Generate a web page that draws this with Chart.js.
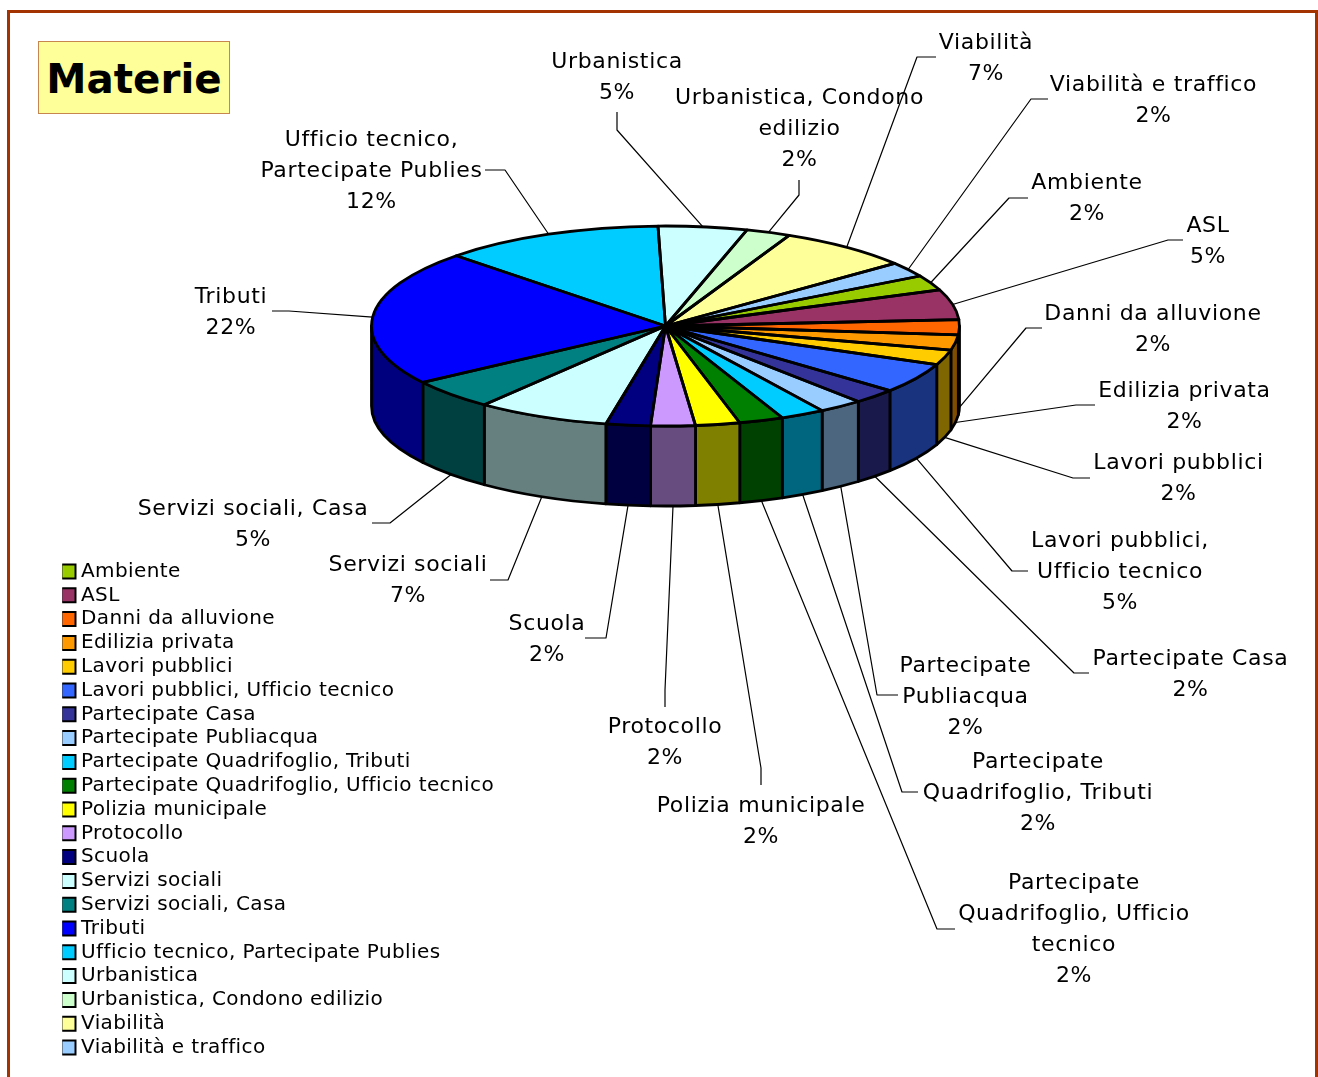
<!DOCTYPE html>
<html lang="it">
<head>
<meta charset="utf-8">
<title>Materie</title>
<script src="https://cdn.jsdelivr.net/npm/chart.js@4"></script>
<style>
    html, body { margin: 0; padding: 0; background: #fff; overflow: hidden; }
    #frame { position: absolute; left: 7px; top: 10px; width: 1305px; height: 1100px; border: 3px solid #a33300; }
    #titolo {
        position: absolute; left: 38px; top: 41px; width: 190px; height: 71px; opacity: 0.999;
        background: #ffff99; border: 1px solid #c8864f; text-align: center;
        font: bold 40.4px "DejaVu Sans", sans-serif; line-height: 74px; color: #000;
    }
    canvas { position: absolute; left: 0; top: 0; }
</style>
</head>
<body>
<div id="frame"></div>
<div id="titolo">Materie</div>
<canvas id="grafico" width="1318" height="1077"></canvas>
<script>
const categories = ['Ambiente', 'ASL', 'Danni da alluvione', 'Edilizia privata', 'Lavori pubblici',
    'Lavori pubblici, Ufficio tecnico', 'Partecipate Casa', 'Partecipate Publiacqua',
    'Partecipate Quadrifoglio, Tributi', 'Partecipate Quadrifoglio, Ufficio tecnico',
    'Polizia municipale', 'Protocollo', 'Scuola', 'Servizi sociali', 'Servizi sociali, Casa',
    'Tributi', 'Ufficio tecnico, Partecipate Publies', 'Urbanistica', 'Urbanistica, Condono edilizio',
    'Viabilità', 'Viabilità e traffico'];
const counts = [1, 2, 1, 1, 1, 2, 1, 1, 1, 1, 1, 1, 1, 3, 2, 9, 5, 2, 1, 3, 1];
const sliceColors = ['#99cc00', '#993366', '#ff6600', '#ff9900', '#ffcc00', '#3366ff', '#333399', '#99ccff',
    '#00ccff', '#008000', '#ffff00', '#cc99ff', '#000080', '#ccffff', '#008080', '#0000ff', '#00ccff',
    '#ccffff', '#ccffcc', '#ffff99', '#99ccff'];

// righe delle etichette, a capo come nell'originale
const labelLines = [['Ambiente'], ['ASL'], ['Danni da alluvione'], ['Edilizia privata'], ['Lavori pubblici'],
    ['Lavori pubblici,', 'Ufficio tecnico'], ['Partecipate Casa'], ['Partecipate', 'Publiacqua'],
    ['Partecipate', 'Quadrifoglio, Tributi'], ['Partecipate', 'Quadrifoglio, Ufficio', 'tecnico'],
    ['Polizia municipale'], ['Protocollo'], ['Scuola'], ['Servizi sociali'], ['Servizi sociali, Casa'],
    ['Tributi'], ['Ufficio tecnico,', 'Partecipate Publies'], ['Urbanistica'], ['Urbanistica, Condono', 'edilizio'],
    ['Viabilità'], ['Viabilità e traffico']];

// centro x e y della prima riga di ogni etichetta
const labelPos = [[1087, 182], [1208, 225], [1153, 313], [1184.5, 390], [1178.5, 462], [1120, 540], [1190.5, 658],
    [965.5, 665], [1038, 761], [1074, 882], [761, 805], [665, 726], [547, 623], [408, 564], [253, 508],
    [231, 296], [371.5, 139], [617, 61], [799.5, 97], [986, 42], [1153.5, 84]];
// linee guida: inizio vicino al testo, poi gomito, poi il bordo della torta
const leaderPts = [[1028, 198, 1009, 198], [1183, 240, 1168, 240], [1042, 328, 1026, 328], [1095, 405, 1076, 405],
    [1090, 478, 1073, 478], [1028, 571, 1012, 571], [1089, 673, 1074, 673], [898, 695, 877, 695],
    [918, 792, 902, 792], [955, 929, 937, 929], [761, 785, 761, 768], [665, 707, 665, 690], [585, 638, 606, 638],
    [490, 580, 508, 580], [372, 523, 390, 523], [272, 311, 289, 311], [485, 170, 505, 170], [617, 112, 617, 130],
    [799, 180, 799, 195], [936, 57, 917, 57], [1048, 99, 1031, 99]];

const RX = 294, RY = 100, DEPTH = 80;
const LINE_H = 31;
const total = counts.reduce((a, b) => a + b, 0);

function darken(hex) {
    const n = parseInt(hex.slice(1), 16);
    return `rgb(${(n >> 16) >> 1},${((n >> 8) & 255) >> 1},${(n & 255) >> 1})`;
}

// torta 3D: lo schiacciamento viene applicato attorno al disegno degli archi
const pie3d = {
    id: 'pie3d',
    beforeDraw(chart) {
        // la legenda sta in basso a sinistra
        const lg = chart.legend;
        lg.left = 62.2; lg.top = 557.7; lg.width = 460; lg.height = 515;
        lg.right = lg.left + lg.width; lg.bottom = lg.top + lg.height;
        chart.ctx.letterSpacing = '0.39px';
    },
    beforeDatasetsDraw(chart) {
        const ctx = chart.ctx;
        const arcs = chart.getDatasetMeta(0).data;
        const cx = arcs[0].x, cy = arcs[0].y;
        ctx.save();
        ctx.lineWidth = 2.8;
        ctx.strokeStyle = '#000';
        ctx.lineJoin = 'round';
        arcs.forEach((arc, i) => {
            // solo la parte sul davanti ha una parete
            [0, 2 * Math.PI].forEach(turn => {
                const a = Math.max(arc.startAngle, turn);
                const b = Math.min(arc.endAngle, turn + Math.PI);
                if (b <= a) return;
                ctx.beginPath();
                ctx.ellipse(cx, cy, RX, RY, 0, a, b);
                ctx.ellipse(cx, cy + DEPTH, RX, RY, 0, b, a, true);
                ctx.closePath();
                ctx.fillStyle = darken(sliceColors[i]);
                ctx.fill();
                ctx.stroke();
            });
        });
        ctx.restore();
        ctx.save();
        ctx.translate(cx, cy);
        ctx.scale(1, RY / RX);
        ctx.translate(-cx, -cy);
    },
    afterDatasetsDraw(chart) {
        const ctx = chart.ctx;
        ctx.restore();
        const arcs = chart.getDatasetMeta(0).data;
        const cx = arcs[0].x, cy = arcs[0].y;
        ctx.save();
        ctx.strokeStyle = '#000';
        ctx.lineJoin = 'round';
        ctx.lineWidth = 2.8;
        arcs.forEach(arc => {
            ctx.beginPath();
            ctx.moveTo(cx, cy);
            ctx.ellipse(cx, cy, RX, RY, 0, arc.startAngle, arc.endAngle);
            ctx.closePath();
            ctx.stroke();
        });
        // linee guida ed etichette
        ctx.lineWidth = 1.2;
        arcs.forEach((arc, i) => {
            const mid = (arc.startAngle + arc.endAngle) / 2;
            const ax = cx + RX * Math.cos(mid);
            const ay = cy + RY * Math.sin(mid) + (Math.sin(mid) > 0 ? DEPTH : 0);
            const p = leaderPts[i];
            ctx.beginPath();
            ctx.moveTo(p[0], p[1]);
            ctx.lineTo(p[2], p[3]);
            ctx.lineTo(ax, ay);
            ctx.stroke();
        });
        ctx.fillStyle = '#000';
        ctx.font = '22px "DejaVu Sans", sans-serif';
        ctx.letterSpacing = '0.65px';
        ctx.textAlign = 'center';
        ctx.textBaseline = 'middle';
        arcs.forEach((arc, i) => {
            const lines = labelLines[i].concat(Math.round(counts[i] / total * 100) + '%');
            lines.forEach((t, k) => ctx.fillText(t, labelPos[i][0], labelPos[i][1] + 1.5 + k * LINE_H));
        });
        ctx.restore();
    }
};

new Chart(document.getElementById('grafico'), {
    type: 'pie',
    data: {
        labels: categories,
        datasets: [{ data: counts, backgroundColor: sliceColors, borderWidth: 0, hoverOffset: 0 }]
    },
    options: {
        responsive: false,
        animation: false,
        events: [],
        rotation: 60,
        radius: RX,
        layout: { padding: { left: 371.5, right: 358.5, top: 32, bottom: 457 } },
        plugins: {
            tooltip: { enabled: false },
            legend: {
                position: 'chartArea',
                align: 'start',
                labels: {
                    color: '#000',
                    font: { family: '"DejaVu Sans", sans-serif', size: 20 },
                    usePointStyle: true,
                    boxWidth: 5,
                    boxHeight: 14,
                    padding: 3.8,
                    textAlign: 'left',
                    generateLabels(chart) {
                        return categories.map((text, i) => ({
                            text, index: i, fillStyle: sliceColors[i], strokeStyle: '#000', lineWidth: 2,
                            pointStyle: 'rect', hidden: false
                        }));
                    }
                }
            }
        }
    },
    plugins: [pie3d]
});
</script>
</body>
</html>
